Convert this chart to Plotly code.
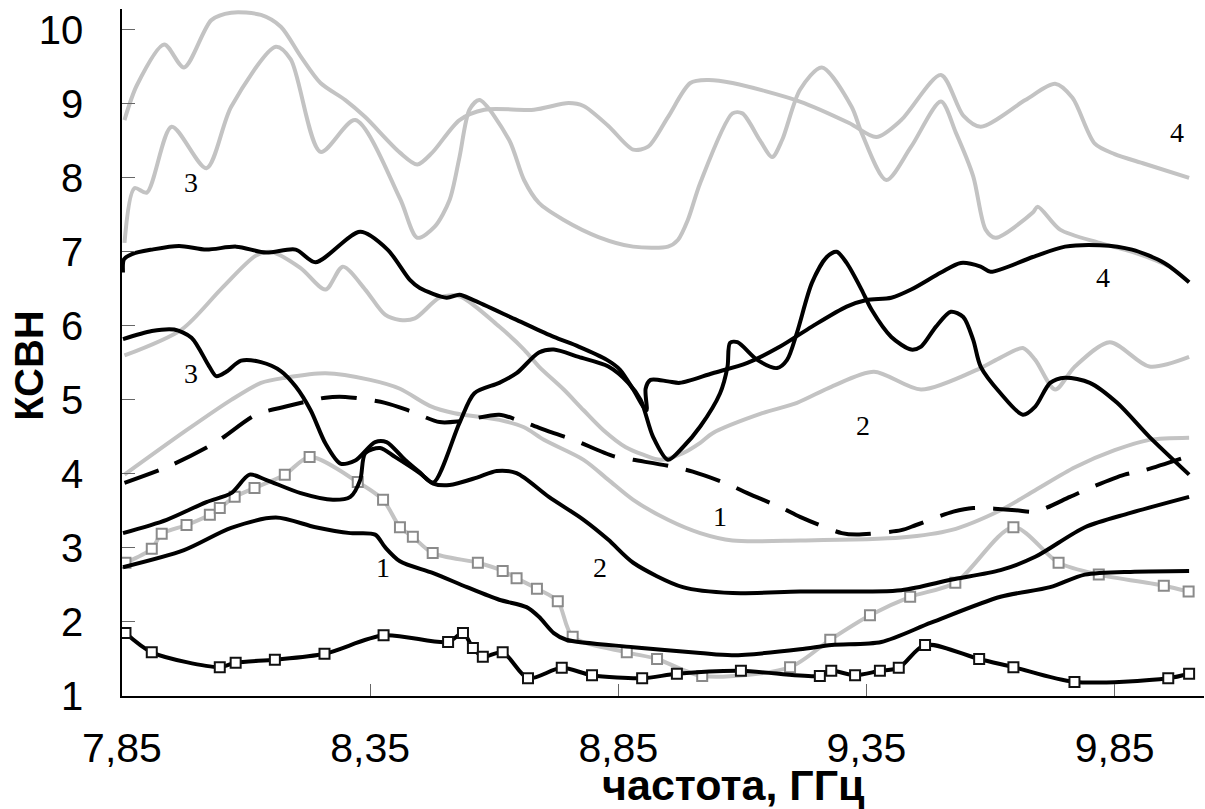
import plotly.graph_objects as go

# ---------------- data (frequency GHz, VSWR) ----------------
g4_x = [7.855, 7.88, 7.935, 7.975, 8.03, 8.07, 8.13, 8.17, 8.21, 8.25, 8.30, 8.34, 8.41, 8.445, 8.475, 8.53, 8.58, 8.68, 8.75, 8.78, 8.83, 8.88, 8.91, 8.95, 8.995, 9.03, 9.08, 9.216, 9.315, 9.37, 9.42, 9.50, 9.545, 9.58, 9.67, 9.73, 9.765, 9.81, 9.85, 9.91, 10.0]
g4_y = [8.78, 9.25, 9.80, 9.49, 10.13, 10.23, 10.2, 10.04, 9.64, 9.28, 9.05, 8.82, 8.34, 8.18, 8.34, 8.78, 8.92, 8.92, 9.01, 8.97, 8.70, 8.38, 8.42, 8.82, 9.28, 9.32, 9.28, 9.03, 8.74, 8.55, 8.78, 9.39, 8.84, 8.69, 9.05, 9.27, 9.08, 8.46, 8.32, 8.19, 8.0]

g3_x = [7.855, 7.875, 7.90, 7.95, 8.02, 8.07, 8.16, 8.19, 8.25, 8.32, 8.41, 8.445, 8.48, 8.51, 8.53, 8.55, 8.57, 8.63, 8.66, 8.69, 8.74, 8.81, 8.88, 8.95, 8.97, 8.99, 9.015, 9.08, 9.10, 9.135, 9.16, 9.18, 9.216, 9.26, 9.32, 9.34, 9.39, 9.44, 9.50, 9.53, 9.565, 9.59, 9.61, 9.685, 9.695, 9.74, 9.82, 9.89, 9.96, 10.0]
g3_y = [7.12, 7.86, 7.80, 8.69, 8.13, 8.96, 9.77, 9.60, 8.35, 8.78, 7.72, 7.19, 7.34, 7.70, 8.28, 8.92, 9.05, 8.51, 7.97, 7.66, 7.43, 7.20, 7.07, 7.07, 7.16, 7.43, 7.93, 8.87, 8.87, 8.51, 8.28, 8.51, 9.19, 9.49, 8.96, 8.61, 7.97, 8.42, 9.03, 8.61, 8.02, 7.30, 7.19, 7.53, 7.61, 7.30, 7.12, 6.99, 6.80, 6.59]

g2_x = [7.855, 7.97, 8.05, 8.12, 8.15, 8.21, 8.26, 8.295, 8.34, 8.38, 8.41, 8.44, 8.49, 8.53, 8.61, 8.66, 8.69, 8.74, 8.78, 8.82, 8.865, 8.90, 8.935, 8.98, 9.015, 9.04, 9.14, 9.21, 9.28, 9.365, 9.46, 9.58, 9.62, 9.665, 9.69, 9.73, 9.77, 9.84, 9.92, 10.0]
g2_y = [5.60, 5.95, 6.50, 6.95, 7.00, 6.78, 6.49, 6.80, 6.49, 6.15, 6.08, 6.10, 6.38, 6.40, 5.99, 5.68, 5.45, 5.14, 4.86, 4.59, 4.36, 4.26, 4.19, 4.28, 4.42, 4.55, 4.82, 4.96, 5.18, 5.38, 5.14, 5.43, 5.57, 5.70, 5.54, 5.14, 5.45, 5.78, 5.45, 5.58]

g1_x = [7.855, 7.98, 8.07, 8.13, 8.18, 8.26, 8.35, 8.41, 8.47, 8.52, 8.61, 8.66, 8.70, 8.78, 8.83, 8.88, 8.95, 9.015, 9.08, 9.216, 9.42, 9.52, 9.62, 9.69, 9.77, 9.85, 9.92, 10.0]
g1_y = [3.99, 4.59, 5.00, 5.23, 5.30, 5.36, 5.27, 5.15, 4.92, 4.82, 4.73, 4.63, 4.46, 4.19, 3.92, 3.65, 3.38, 3.20, 3.10, 3.10, 3.14, 3.24, 3.51, 3.78, 4.09, 4.32, 4.46, 4.49]

gs_x = [7.857, 7.91, 7.93, 7.98, 8.027, 8.047, 8.077, 8.117, 8.178, 8.228, 8.325, 8.376, 8.41, 8.436, 8.476, 8.567, 8.617, 8.645, 8.686, 8.728, 8.758, 8.867, 8.928, 9.019, 9.196, 9.277, 9.357, 9.438, 9.529, 9.646, 9.737, 9.818, 9.949, 9.999]
gs_y = [2.80, 2.99, 3.19, 3.31, 3.45, 3.54, 3.69, 3.81, 3.99, 4.23, 3.89, 3.65, 3.28, 3.15, 2.93, 2.80, 2.69, 2.59, 2.45, 2.28, 1.80, 1.59, 1.50, 1.27, 1.39, 1.76, 2.09, 2.34, 2.53, 3.28, 2.80, 2.64, 2.49, 2.41]

k4_x = [7.852, 7.854, 7.87, 7.91, 7.965, 8.02, 8.08, 8.14, 8.20, 8.24, 8.33, 8.385, 8.43, 8.45, 8.504, 8.53, 8.557, 8.645, 8.72, 8.77, 8.827, 8.853, 8.88, 8.90, 8.907, 8.905, 8.915, 8.95, 8.974, 9.04, 9.11, 9.176, 9.24, 9.31, 9.35, 9.40, 9.44, 9.50, 9.54, 9.58, 9.60, 9.685, 9.75, 9.82, 9.885, 9.95, 10.0]
k4_y = [6.72, 6.90, 6.97, 7.03, 7.08, 7.03, 7.07, 6.99, 7.03, 6.86, 7.27, 7.03, 6.62, 6.51, 6.38, 6.42, 6.35, 6.08, 5.85, 5.72, 5.54, 5.41, 5.14, 4.91, 4.86, 5.15, 5.27, 5.25, 5.23, 5.36, 5.50, 5.72, 5.99, 6.26, 6.35, 6.38, 6.49, 6.72, 6.85, 6.80, 6.73, 6.93, 7.07, 7.09, 7.03, 6.85, 6.59]

k3_x = [7.852, 7.91, 7.955, 7.99, 8.025, 8.04, 8.06, 8.09, 8.13, 8.17, 8.20, 8.23, 8.26, 8.29, 8.32, 8.36, 8.383, 8.42, 8.45, 8.477, 8.53, 8.56, 8.61, 8.645, 8.69, 8.72, 8.77, 8.83, 8.87, 8.895, 8.92, 8.95, 8.98, 9.015, 9.055, 9.07, 9.075, 9.09, 9.13, 9.17, 9.19, 9.21, 9.24, 9.27, 9.29, 9.31, 9.34, 9.36, 9.40, 9.44, 9.46, 9.49, 9.52, 9.545, 9.565, 9.58, 9.62, 9.665, 9.69, 9.72, 9.75, 9.80, 9.855, 9.92, 10.0]
k3_y = [5.82, 5.93, 5.95, 5.84, 5.46, 5.32, 5.38, 5.53, 5.51, 5.39, 5.18, 4.86, 4.41, 4.14, 4.18, 4.43, 4.43, 4.19, 4.02, 3.88, 4.69, 5.09, 5.23, 5.36, 5.64, 5.68, 5.58, 5.45, 5.23, 5.00, 4.50, 4.19, 4.36, 4.64, 5.09, 5.45, 5.77, 5.78, 5.54, 5.43, 5.54, 5.91, 6.58, 6.93, 7.00, 6.85, 6.49, 6.22, 5.85, 5.68, 5.72, 5.99, 6.19, 6.12, 5.81, 5.45, 5.09, 4.80, 4.91, 5.23, 5.30, 5.23, 4.96, 4.50, 3.99]

k2_x = [7.852, 7.94, 8.02, 8.07, 8.107, 8.14, 8.21, 8.275, 8.31, 8.33, 8.34, 8.37, 8.40, 8.45, 8.477, 8.51, 8.565, 8.605, 8.645, 8.71, 8.78, 8.83, 8.88, 8.98, 9.08, 9.216, 9.42, 9.52, 9.62, 9.69, 9.79, 9.88, 10.0]
k2_y = [3.20, 3.38, 3.62, 3.74, 3.99, 3.92, 3.74, 3.65, 3.69, 3.92, 4.28, 4.35, 4.23, 4.01, 3.87, 3.85, 3.95, 4.04, 4.01, 3.69, 3.38, 3.11, 2.80, 2.47, 2.39, 2.41, 2.43, 2.57, 2.70, 2.88, 3.28, 3.47, 3.69]

k1_x = [7.852, 7.975, 8.07, 8.16, 8.24, 8.31, 8.36, 8.38, 8.41, 8.477, 8.545, 8.61, 8.665, 8.69, 8.72, 8.745, 8.88, 9.015, 9.08, 9.216, 9.28, 9.38, 9.48, 9.62, 9.72, 9.79, 9.89, 10.0]
k1_y = [2.74, 2.97, 3.27, 3.41, 3.28, 3.20, 3.18, 3.01, 2.82, 2.66, 2.47, 2.30, 2.20, 2.07, 1.85, 1.76, 1.66, 1.58, 1.55, 1.63, 1.69, 1.73, 1.99, 2.34, 2.47, 2.64, 2.68, 2.69]

kd_x = [7.855, 7.95, 8.04, 8.12, 8.18, 8.26, 8.30, 8.38, 8.43, 8.49, 8.53, 8.61, 8.65, 8.72, 8.76, 8.84, 8.88, 8.95, 9.0, 9.075, 9.11, 9.18, 9.216, 9.30, 9.33, 9.42, 9.45, 9.525, 9.565, 9.65, 9.69, 9.76, 9.80, 9.87, 9.91, 9.99]
kd_y = [3.88, 4.12, 4.43, 4.80, 4.91, 5.03, 5.04, 4.96, 4.85, 4.70, 4.71, 4.80, 4.72, 4.55, 4.46, 4.24, 4.19, 4.11, 4.03, 3.85, 3.74, 3.54, 3.42, 3.20, 3.18, 3.24, 3.31, 3.49, 3.54, 3.51, 3.49, 3.69, 3.81, 3.99, 4.05, 4.22]

ks_x = [7.857, 7.91, 8.047, 8.079, 8.158, 8.258, 8.377, 8.507, 8.537, 8.557, 8.577, 8.617, 8.668, 8.736, 8.797, 8.898, 8.968, 9.097, 9.256, 9.279, 9.327, 9.377, 9.415, 9.468, 9.577, 9.646, 9.769, 9.958, 10.0]
ks_y = [1.85, 1.59, 1.39, 1.45, 1.49, 1.57, 1.82, 1.73, 1.85, 1.65, 1.53, 1.59, 1.24, 1.38, 1.28, 1.24, 1.30, 1.34, 1.27, 1.34, 1.28, 1.34, 1.38, 1.69, 1.50, 1.39, 1.19, 1.24, 1.30]

label_text = ["3", "3", "4", "4", "2", "2", "1", "1"]
label_x = [7.99, 7.99, 9.975, 9.827, 9.343, 8.813, 9.055, 8.375]
label_y = [7.93, 5.36, 8.61, 6.65, 4.66, 2.74, 3.42, 2.74]

x_ticks = [7.85, 8.35, 8.85, 9.35, 9.85]
x_tick_text = ["7,85", "8,35", "8,85", "9,35", "9,85"]
y_ticks = [1, 2, 3, 4, 5, 6, 7, 8, 9, 10]

GRAY = "#c3c3c3"
BLACK = "#000000"
LW = 4

fig = go.Figure()

def add_line(x, y, color, dash="solid", marker=None):
    kw = dict(x=x, y=y, mode="lines", line=dict(color=color, width=LW, shape="spline", smoothing=0.8, dash=dash),
              showlegend=False, hoverinfo="skip")
    if marker is not None:
        kw["mode"] = "lines+markers"
        kw["marker"] = marker
    fig.add_trace(go.Scatter(**kw))

for gx, gy in [(g4_x, g4_y), (g3_x, g3_y), (g2_x, g2_y), (g1_x, g1_y)]:
    add_line(gx, gy, GRAY)
add_line(gs_x, gs_y, GRAY, marker=dict(symbol="square", size=10, color="white", line=dict(color="#8a8a8a", width=2)))

for kx, ky in [(k4_x, k4_y), (k3_x, k3_y), (k2_x, k2_y), (k1_x, k1_y)]:
    add_line(kx, ky, BLACK)
add_line(kd_x, kd_y, BLACK, dash="36px,18px")
add_line(ks_x, ks_y, BLACK, marker=dict(symbol="square", size=10, color="white", line=dict(color="#111111", width=2)))

for t, lx, ly in zip(label_text, label_x, label_y):
    fig.add_annotation(x=lx, y=ly, text=t, showarrow=False,
                       font=dict(family="Liberation Serif, Times New Roman, serif", size=28, color="black"))

fig.add_annotation(xref="paper", yref="paper", x=0.565, y=-0.13, text="<b>частота, ГГц</b>",
                   showarrow=False, xanchor="center", yanchor="middle",
                   font=dict(family="Liberation Sans, Arial, sans-serif", size=43, color="black"))
fig.add_annotation(xref="paper", yref="paper", x=-0.086, y=0.482, text="<b>КСВН</b>", textangle=-90,
                   showarrow=False, xanchor="center", yanchor="middle",
                   font=dict(family="Liberation Sans, Arial, sans-serif", size=40, color="black"))

fig.update_layout(
    width=1205, height=809,
    margin=dict(l=122, r=1, t=9, b=113),
    paper_bgcolor="white", plot_bgcolor="white",
    xaxis=dict(range=[7.85, 10.03], tickvals=x_ticks, ticktext=x_tick_text, ticks="inside", ticklen=12,
               tickcolor="#666666", tickwidth=1, showline=True, linecolor="black", linewidth=1.5,
               showgrid=False, zeroline=False, ticklabelstandoff=15,
               tickfont=dict(family="Liberation Sans, Arial, sans-serif", size=41, color="black")),
    yaxis=dict(range=[1, 10.28], tickvals=y_ticks, ticks="inside", ticklen=13,
               tickcolor="#666666", tickwidth=1, showline=True, linecolor="black", linewidth=1.5,
               showgrid=False, zeroline=False, ticklabelstandoff=29,
               tickfont=dict(family="Liberation Sans, Arial, sans-serif", size=40, color="black")),
)

fig.write_html("out.html")
